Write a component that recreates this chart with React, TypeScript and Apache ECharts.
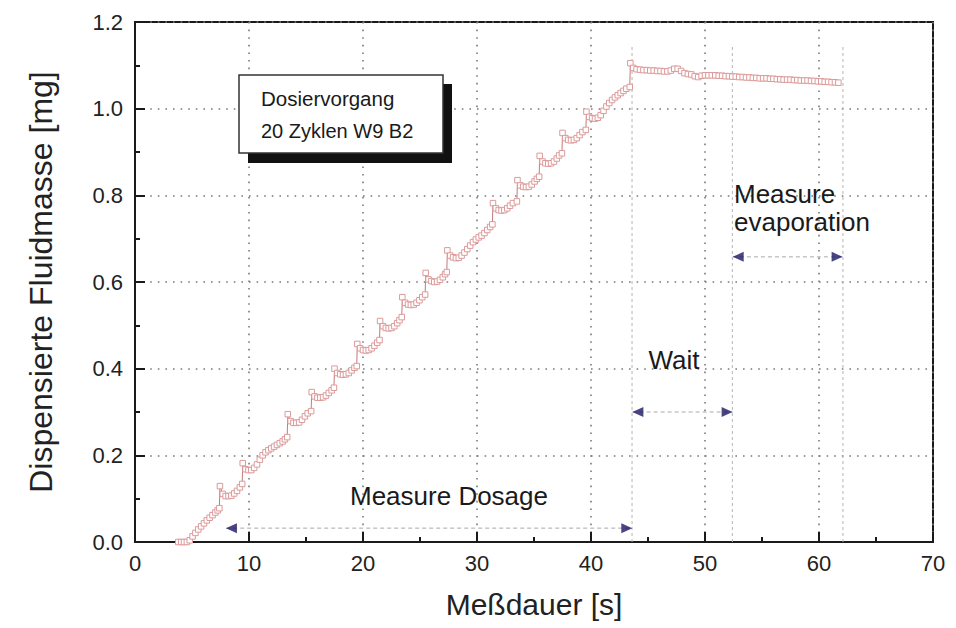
import React, { useEffect, useRef } from "react";
import * as echarts from "echarts";

const FONT = "'Liberation Sans', Arial, Helvetica, sans-serif";

// x-axis / y-axis ticks
const xTicks = [0, 10, 20, 30, 40, 50, 60, 70];
const yTicks = [0, 0.2, 0.4, 0.6, 0.8, 1.0, 1.2];

// Dosing phase: [time s, mass mg]
const dosingData: number[][] = [
  [3.8, 0], [4.05, 0], [4.3, 0], [4.55, 0], [4.8, 0.004], [5.05, 0.013], [5.3, 0.021], [5.55, 0.029],
  [5.8, 0.036], [6.05, 0.043], [6.3, 0.05], [6.55, 0.056], [6.8, 0.062], [7.05, 0.068], [7.25, 0.073], [7.4, 0.078],
  [7.45, 0.129], [7.7, 0.111], [7.95, 0.106], [8.2, 0.106], [8.45, 0.107], [8.7, 0.112], [8.95, 0.118], [9.2, 0.126], [9.4, 0.134],
  [9.45, 0.182], [9.7, 0.168], [9.95, 0.166], [10.2, 0.166], [10.45, 0.171], [10.7, 0.179], [10.95, 0.19], [11.2, 0.2],
  [11.45, 0.207], [11.7, 0.212], [11.95, 0.216], [12.2, 0.22], [12.45, 0.224], [12.7, 0.228], [12.95, 0.232], [13.15, 0.237], [13.35, 0.242],
  [13.4, 0.295], [13.65, 0.279], [13.9, 0.275], [14.15, 0.275], [14.4, 0.276], [14.65, 0.282], [14.9, 0.29], [15.15, 0.297], [15.45, 0.302],
  [15.5, 0.346], [15.75, 0.336], [16.0, 0.333], [16.25, 0.333], [16.5, 0.334], [16.75, 0.338], [17.0, 0.344], [17.25, 0.35], [17.45, 0.356],
  [17.5, 0.4], [17.75, 0.39], [18.0, 0.387], [18.25, 0.386], [18.5, 0.387], [18.75, 0.39], [19.0, 0.396], [19.25, 0.402], [19.45, 0.406],
  [19.5, 0.457], [19.75, 0.447], [20.0, 0.443], [20.25, 0.442], [20.5, 0.443], [20.75, 0.447], [21.0, 0.453], [21.25, 0.46], [21.45, 0.466],
  [21.5, 0.51], [21.75, 0.498], [22.0, 0.494], [22.25, 0.493], [22.5, 0.494], [22.75, 0.498], [23.0, 0.505], [23.2, 0.512], [23.4, 0.519],
  [23.45, 0.565], [23.7, 0.552], [23.95, 0.548], [24.2, 0.547], [24.45, 0.548], [24.7, 0.552], [24.95, 0.558], [25.2, 0.565], [25.45, 0.571],
  [25.5, 0.621], [25.75, 0.606], [26.0, 0.602], [26.25, 0.6], [26.5, 0.601], [26.75, 0.605], [27.0, 0.611], [27.2, 0.618], [27.35, 0.623],
  [27.4, 0.673], [27.65, 0.661], [27.9, 0.657], [28.15, 0.655], [28.4, 0.656], [28.65, 0.661], [28.9, 0.668], [29.15, 0.676], [29.4, 0.684],
  [29.65, 0.692], [29.9, 0.698], [30.15, 0.703], [30.4, 0.707], [30.65, 0.713], [30.9, 0.72], [31.15, 0.727], [31.35, 0.733],
  [31.4, 0.782], [31.65, 0.77], [31.9, 0.766], [32.15, 0.765], [32.4, 0.766], [32.65, 0.77], [32.9, 0.776], [33.15, 0.782], [33.5, 0.786],
  [33.55, 0.835], [33.8, 0.823], [34.05, 0.82], [34.3, 0.819], [34.55, 0.82], [34.8, 0.825], [35.05, 0.832], [35.25, 0.838], [35.45, 0.843],
  [35.5, 0.891], [35.75, 0.878], [36.0, 0.874], [36.25, 0.873], [36.5, 0.874], [36.75, 0.878], [37.0, 0.885], [37.2, 0.892], [37.45, 0.897],
  [37.5, 0.944], [37.75, 0.932], [38.0, 0.928], [38.25, 0.927], [38.5, 0.928], [38.75, 0.932], [39.0, 0.939], [39.25, 0.946], [39.55, 0.951],
  [39.6, 0.993], [39.85, 0.981], [40.1, 0.978], [40.35, 0.977], [40.6, 0.979], [40.85, 0.985], [41.1, 0.995], [41.35, 1.005], [41.6, 1.013],
  [41.85, 1.02], [42.1, 1.026], [42.35, 1.031], [42.6, 1.036], [42.85, 1.041], [43.1, 1.046], [43.4, 1.05],
];

// Wait + evaporation phase: [time s, mass mg]
const plateauData: number[][] = [
  [43.45, 1.105], [43.7, 1.094], [44.0, 1.091], [44.3, 1.09], [44.6, 1.089], [44.9, 1.089], [45.2, 1.088], [45.5, 1.088],
  [45.8, 1.087], [46.1, 1.087], [46.4, 1.086], [46.7, 1.086], [47.0, 1.088], [47.3, 1.092], [47.6, 1.092], [47.9, 1.087],
  [48.2, 1.082], [48.5, 1.08], [48.8, 1.079], [49.1, 1.075], [49.4, 1.073], [49.7, 1.076], [50.0, 1.077], [50.3, 1.077],
  [50.6, 1.077], [50.9, 1.077], [51.2, 1.076], [51.5, 1.076], [51.8, 1.075], [52.1, 1.075], [52.4, 1.074], [52.7, 1.074],
  [53.0, 1.073], [53.3, 1.073], [53.6, 1.072], [53.9, 1.072], [54.2, 1.071], [54.5, 1.071], [54.8, 1.07], [55.1, 1.07],
  [55.4, 1.07], [55.7, 1.069], [56.0, 1.069], [56.3, 1.068], [56.6, 1.068], [56.9, 1.067], [57.2, 1.067], [57.5, 1.067],
  [57.8, 1.066], [58.1, 1.066], [58.4, 1.065], [58.7, 1.065], [59.0, 1.065], [59.3, 1.064], [59.6, 1.064], [59.9, 1.063],
  [60.2, 1.063], [60.5, 1.062], [60.8, 1.062], [61.1, 1.061], [61.4, 1.061], [61.7, 1.06],
];

// phase boundary markers (s) and their top (mg)
const phaseTimes = [43.6, 52.4, 62.1];
const phaseTop = 1.147;

// annotation arrows: start s, end s, level mg
const arrowStarts = [8.0, 43.65, 52.45];
const arrowEnds = [43.6, 52.4, 62.05];
const arrowLevels = [0.032, 0.3, 0.658];
const arrowHalf = 0.46;

export default function App() {
  const ref = useRef<HTMLDivElement>(null);
  useEffect(() => {
    if (!ref.current) return;
    const chart = echarts.init(ref.current, undefined, { renderer: "svg" });
    const axisColor = "#1a1a1a";
    const series: any[] = [];
    phaseTimes.forEach((t) => {
      series.push({
        type: "line",
        data: [[t, 0], [t, phaseTop]],
        symbol: "none",
        silent: true,
        lineStyle: { color: "#b5b5b5", width: 1, type: [3, 3] },
        z: 1,
      });
    });
    arrowStarts.forEach((s, i) => {
      series.push({
        type: "line",
        data: [[s, arrowLevels[i]], [arrowEnds[i], arrowLevels[i]]],
        symbol: "none",
        silent: true,
        lineStyle: { color: "#aaaaaa", width: 1, type: [4, 3] },
        z: 2,
      });
      series.push({
        type: "scatter",
        symbol: "triangle",
        symbolSize: [10, 11],
        itemStyle: { color: "#1b1763" },
        silent: true,
        z: 3,
        data: [
          { value: [s + arrowHalf, arrowLevels[i]], symbolRotate: 90 },
          { value: [arrowEnds[i] - arrowHalf, arrowLevels[i]], symbolRotate: -90 },
        ],
      });
    });
    const massSeries = {
      type: "line",
      data: dosingData.concat(plateauData),
      symbol: "rect",
      symbolSize: 5.5,
      showAllSymbol: true,
      lineStyle: { color: "#c77878", width: 1 },
      itemStyle: { color: "#ffffff", borderColor: "#dc9a9a", borderWidth: 1 },
      z: 5,
    };
    series.push(massSeries);

    chart.setOption({
      animation: false,
      grid: {
        left: 135, right: 23, top: 22, bottom: 86,
        show: true, borderColor: axisColor, borderWidth: 2, backgroundColor: "transparent",
      },
      xAxis: {
        type: "value", min: xTicks[0], max: xTicks[xTicks.length - 1], interval: 10,
        name: "Meßdauer [s]", nameLocation: "middle", nameGap: 47,
        nameTextStyle: { fontSize: 30, color: "#222", fontFamily: FONT },
        axisLine: { show: true, onZero: false, lineStyle: { color: axisColor, width: 2 } },
        axisTick: { show: true, inside: true, length: 10, lineStyle: { color: axisColor, width: 2 } },
        minorTick: { show: true, splitNumber: 2, length: 5, lineStyle: { color: axisColor, width: 2 } },
        axisLabel: { fontSize: 22, color: "#222", margin: 10, fontFamily: FONT },
        splitLine: { show: true, lineStyle: { color: "#7a7a7a", width: 1.6, type: [1.6, 6] } },
      },
      yAxis: {
        type: "value", min: yTicks[0], max: yTicks[yTicks.length - 1], interval: 0.2,
        name: "Dispensierte Fluidmasse [mg]", nameLocation: "middle", nameGap: 78,
        nameTextStyle: { fontSize: 32, color: "#222", fontFamily: FONT },
        axisLine: { show: true, onZero: false, lineStyle: { color: axisColor, width: 2 } },
        axisTick: { show: true, inside: true, length: 10, lineStyle: { color: axisColor, width: 2 } },
        minorTick: { show: true, splitNumber: 2, length: 5, lineStyle: { color: axisColor, width: 2 } },
        axisLabel: { fontSize: 22, color: "#222", margin: 12, fontFamily: FONT, formatter: (v: number) => v.toFixed(1) },
        splitLine: { show: true, lineStyle: { color: "#7a7a7a", width: 1.6, type: [1.6, 6] } },
      },
      graphic: [
        { type: "rect", shape: { x: 248, y: 84, width: 204, height: 79 }, style: { fill: "#111" }, z: 10 },
        { type: "rect", shape: { x: 239, y: 75, width: 204, height: 78 }, style: { fill: "#fff", stroke: "#333", lineWidth: 1.5 }, z: 11 },
        { type: "text", x: 261, y: 98, style: { text: "Dosiervorgang", fontSize: 20.5, fill: "#1a1a1a", fontFamily: FONT, textVerticalAlign: "middle" }, z: 12 },
        { type: "text", x: 261, y: 131, style: { text: "20 Zyklen W9 B2", fontSize: 20, fill: "#1a1a1a", fontFamily: FONT, textVerticalAlign: "middle" }, z: 12 },
        { type: "text", x: 449, y: 496, style: { text: "Measure Dosage", fontSize: 26, fill: "#1a1a1a", fontFamily: FONT, textAlign: "center", textVerticalAlign: "middle" }, z: 12 },
        { type: "text", x: 674, y: 360, style: { text: "Wait", fontSize: 26, fill: "#1a1a1a", fontFamily: FONT, textAlign: "center", textVerticalAlign: "middle" }, z: 12 },
        { type: "text", x: 734, y: 194, style: { text: "Measure", fontSize: 26, fill: "#1a1a1a", fontFamily: FONT, textVerticalAlign: "middle" }, z: 12 },
        { type: "text", x: 734, y: 222, style: { text: "evaporation", fontSize: 26, fill: "#1a1a1a", fontFamily: FONT, textVerticalAlign: "middle" }, z: 12 },
      ],
      series,
    });
    return () => chart.dispose();
  }, []);
  return (
    <div
      ref={ref}
      style={{ position: "fixed", left: 0, top: 0, width: 956, height: 628, background: "#fff" }}
    />
  );
}
